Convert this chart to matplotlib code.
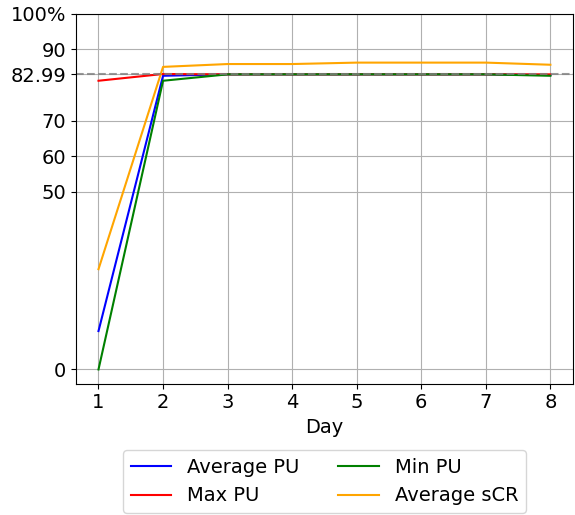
import matplotlib
matplotlib.use("Agg")
import matplotlib.pyplot as plt

days = [1, 2, 3, 4, 5, 6, 7, 8]
avg_pu = [10.8, 82.6, 83.0, 83.0, 83.0, 83.0, 83.0, 82.8]
max_pu = [81.2, 83.1, 83.0, 83.0, 83.0, 83.0, 83.0, 83.0]
min_pu = [0.0, 81.2, 83.0, 83.0, 83.0, 83.0, 83.0, 82.6]
avg_scr = [28.2, 85.1, 85.9, 85.9, 86.3, 86.3, 86.3, 85.7]
target = 82.99
ytick_vals = [0, 50, 60, 70, target, 90, 100]
ytick_labels = ["0", "50", "60", "70", "82.99", "90", "100%"]

plt.rcParams["font.size"] = 14

fig = plt.figure(figsize=(5.75, 5.15), dpi=100)
ax = fig.add_axes([0.132, 0.255, 0.8645, 0.718])

ax.plot(days, avg_pu, color="blue", label="Average PU")
ax.plot(days, max_pu, color="red", label="Max PU")
ax.plot(days, min_pu, color="green", label="Min PU")
ax.plot(days, avg_scr, color="orange", label="Average sCR")
ax.axhline(target, color="gray", linestyle="--", alpha=0.8)

ax.set_ylim(-4, 100)
ax.set_yticks(ytick_vals)
ax.set_yticklabels(ytick_labels)
ax.set_xticks(days)
ax.set_xlabel("Day")
ax.grid(True)

ax.legend(loc="upper center", bbox_to_anchor=(0.5, -0.179), ncol=2,
          borderaxespad=0, handlelength=2.1)

fig.savefig("out.png", dpi=100)
